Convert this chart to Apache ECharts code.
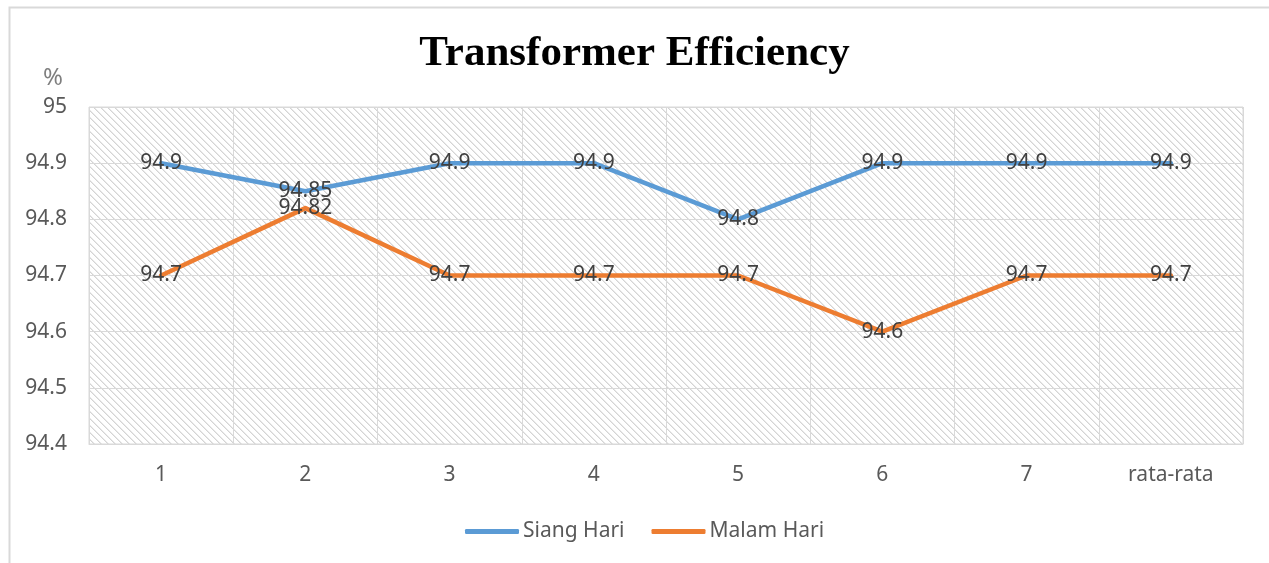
<!DOCTYPE html>
<html>
<head>
<meta charset="utf-8">
<script src="https://cdn.jsdelivr.net/npm/echarts@6/dist/echarts.min.js"></script>
<style>
html,body{margin:0;padding:0;background:#fff;}
#chart{width:1269px;height:563px;}
</style>
</head>
<body>
<div id="chart"></div>
<script>
const categories = ['1', '2', '3', '4', '5', '6', '7', 'rata-rata'];
const siangHari = [94.9, 94.85, 94.9, 94.9, 94.8, 94.9, 94.9, 94.9];
const malamHari = [94.7, 94.82, 94.7, 94.7, 94.7, 94.6, 94.7, 94.7];
const seriesNames = ['Siang Hari', 'Malam Hari'];
const yMin = 94.4, yMax = 95, yStep = 0.1;

// hatch pattern tile
const tile = document.createElement('canvas');
const T = 7;
tile.width = T; tile.height = T;
const c = tile.getContext('2d');
c.fillStyle = '#ffffff';
c.fillRect(0, 0, T, T);
for (let i = 0; i < T; i++) {
  c.fillStyle = '#d4d4d4';
  c.fillRect(i, i, 1, 1);
  c.fillStyle = '#e9e9e9';
  c.fillRect((i + 1) % T, i, 1, 1);
}

const font = '"Noto Sans", "DejaVu Sans", sans-serif';
const chart = echarts.init(document.getElementById('chart'), null, {renderer: 'canvas'});
chart.setOption({
  animation: false,
  backgroundColor: '#ffffff',
  title: {
    text: 'Transformer Efficiency',
    left: 'center',
    top: 27,
    textStyle: {fontFamily: '"Liberation Serif", "Times New Roman", serif', fontWeight: 'bold', fontSize: 43, color: '#000000'}
  },
  graphic: [{
    type: 'rect', left: 7, top: 5, silent: true,
    shape: {width: 1300, height: 620},
    style: {fill: 'none', stroke: '#d9d9d9', lineWidth: 2}
  }],
  legend: {
    data: seriesNames,
    left: 460,
    top: 516,
    icon: 'roundRect',
    itemWidth: 54,
    itemHeight: 5,
    itemGap: 27,
    textStyle: {fontFamily: font, fontSize: 21, color: '#595959', padding: [0, 0, 0, -1]}
  },
  grid: {
    left: 89, right: 26, top: 107, bottom: 119,
    show: true,
    borderColor: '#d9d9d9', borderWidth: 1,
    backgroundColor: {image: tile, repeat: 'repeat'}
  },
  xAxis: {
    type: 'category',
    data: categories,
    boundaryGap: true,
    axisLine: {show: true, lineStyle: {color: '#d9d9d9', width: 1}},
    axisTick: {show: false},
    axisLabel: {fontFamily: font, fontSize: 21, color: '#595959', margin: 21},
    splitLine: {show: true, lineStyle: {color: '#d9d9d9', width: 1}}
  },
  yAxis: {
    type: 'value',
    min: yMin, max: yMax, interval: yStep,
    name: '%',
    nameLocation: 'end',
    nameGap: 29,
    nameTextStyle: {fontFamily: font, fontSize: 24, color: '#7f7f7f', align: 'right', verticalAlign: 'middle', padding: [0, 26, 0, 0]},
    axisLine: {show: false},
    axisTick: {show: false},
    axisLabel: {fontFamily: font, fontSize: 21, color: '#595959', margin: 22,
      formatter: v => String(Math.round(v * 10) / 10)},
    splitLine: {show: true, lineStyle: {color: '#d9d9d9', width: 1}}
  },
  series: [
    {
      name: seriesNames[0], type: 'line', data: siangHari,
      symbol: 'circle', symbolSize: 0.1, showSymbol: true,
      lineStyle: {color: '#5b9bd5', width: 4.5, cap: 'round', join: 'round'},
      itemStyle: {color: '#5b9bd5'},
      label: {show: true, position: 'inside', fontFamily: font, fontSize: 21, color: '#404040'},
      z: 3
    },
    {
      name: seriesNames[1], type: 'line', data: malamHari,
      symbol: 'circle', symbolSize: 0.1, showSymbol: true,
      lineStyle: {color: '#ed7d31', width: 4.5, cap: 'round', join: 'round'},
      itemStyle: {color: '#ed7d31'},
      label: {show: true, position: 'inside', fontFamily: font, fontSize: 21, color: '#404040'},
      z: 2
    }
  ]
});
</script>
</body>
</html>
